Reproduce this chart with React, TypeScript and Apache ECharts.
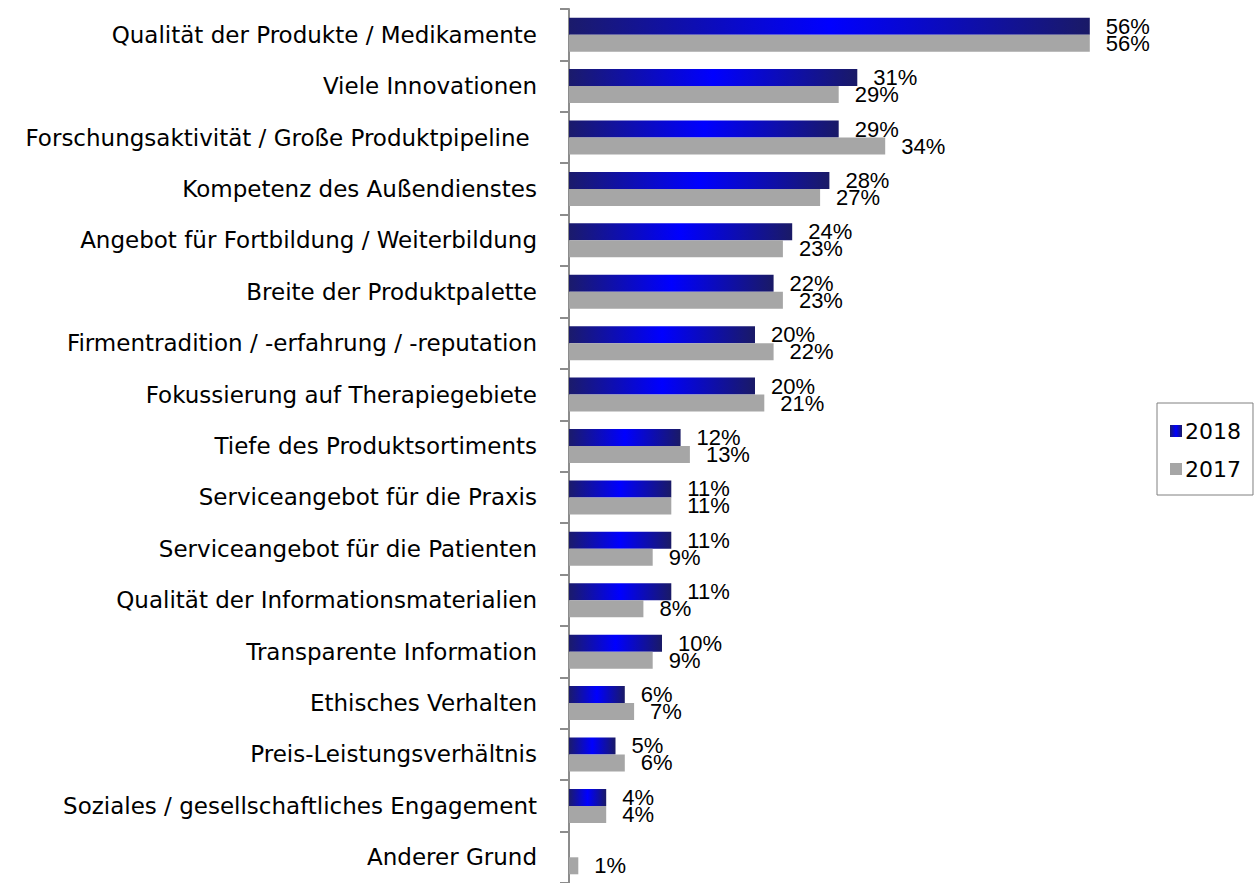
import React, { useEffect, useRef } from "react";
import * as echarts from "echarts";

const categories = [
  "Qualität der Produkte / Medikamente",
  "Viele Innovationen",
  "Forschungsaktivität / Große Produktpipeline ",
  "Kompetenz des Außendienstes",
  "Angebot für Fortbildung / Weiterbildung",
  "Breite der Produktpalette",
  "Firmentradition / -erfahrung / -reputation",
  "Fokussierung auf Therapiegebiete",
  "Tiefe des Produktsortiments",
  "Serviceangebot für die Praxis",
  "Serviceangebot für die Patienten",
  "Qualität der Informationsmaterialien",
  "Transparente Information",
  "Ethisches Verhalten",
  "Preis-Leistungsverhältnis",
  "Soziales / gesellschaftliches Engagement",
  "Anderer Grund",
];

const values2018: (number | null)[] = [56, 31, 29, 28, 24, 22, 20, 20, 12, 11, 11, 11, 10, 6, 5, 4, null];
const values2017: number[] = [56, 29, 34, 27, 23, 23, 22, 21, 13, 11, 9, 8, 9, 7, 6, 4, 1];

const seriesNames = ["2018", "2017"];

const FONT = "'Liberation Sans', Arial, Helvetica, sans-serif";
const CAT_FONT = "'DejaVu Sans', 'Liberation Sans', Arial, sans-serif";

export default function App() {
  const ref = useRef<HTMLDivElement>(null);

  useEffect(() => {
    if (!ref.current) return;
    const chart = echarts.init(ref.current, undefined, { renderer: "svg" });

    const blueGradient = new echarts.graphic.LinearGradient(0, 0, 1, 0, [
      { offset: 0, color: "#1b1b6b" },
      { offset: 0.5, color: "#0000ff" },
      { offset: 1, color: "#1a1a66" },
    ]);

    const label = {
      show: true,
      position: "right",
      distance: 16,
      color: "#000",
      fontSize: 22,
      fontFamily: FONT,
      formatter: (p: any) => (p.value == null ? "" : `${p.value}%`),
    };

    chart.setOption({
      animation: false,
      backgroundColor: "#ffffff",
      textStyle: { fontFamily: FONT },
      grid: { left: 569, top: 9, bottom: -3, right: 130, containLabel: false },
      legend: {
        orient: "vertical",
        left: 1157,
        top: 403,
        data: seriesNames,
        itemWidth: 12,
        itemHeight: 12,
        itemGap: 16,
        padding: [17, 12, 15, 13],
        borderColor: "#808080",
        borderWidth: 1,
        icon: "rect",
        textStyle: { fontSize: 22, color: "#000", fontFamily: CAT_FONT, padding: [0, 0, 0, -2] },
      },
      xAxis: {
        type: "value",
        min: 0,
        max: 60,
        show: false,
      },
      yAxis: {
        type: "category",
        data: categories,
        inverse: true,
        axisLine: { show: true, lineStyle: { color: "#8c8c8c", width: 2 } },
        axisTick: { show: true, length: 9, lineStyle: { color: "#8c8c8c", width: 2 } },
        axisLabel: { color: "#000", fontSize: 23, fontFamily: CAT_FONT, margin: 32 },
        splitLine: { show: false },
      },
      series: [
        {
          name: seriesNames[0],
          type: "bar",
          data: values2018,
          barWidth: 17,
          barGap: "0%",
          itemStyle: { color: blueGradient },
          label,
        },
        {
          name: seriesNames[1],
          type: "bar",
          data: values2017,
          barWidth: 17,
          barGap: "0%",
          itemStyle: { color: "#a6a6a6" },
          label,
        },
      ],
    });

    return () => chart.dispose();
  }, []);

  return (
    <div
      ref={ref}
      style={{ position: "fixed", left: 0, top: 0, width: 1257, height: 883, background: "#fff" }}
    />
  );
}
